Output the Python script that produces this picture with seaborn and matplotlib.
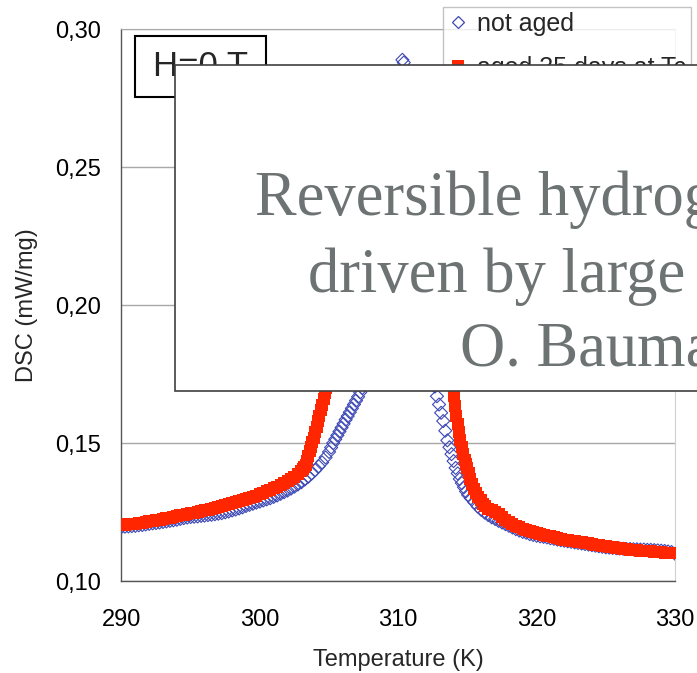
import numpy as np
import pandas as pd
import seaborn as sns
import matplotlib.pyplot as plt
from matplotlib.lines import Line2D
from matplotlib.patches import Rectangle
from matplotlib.ticker import FuncFormatter

# not aged sample
temp_not_aged = [
    290.00, 290.25, 290.50, 290.75, 291.00, 291.25, 291.50, 291.75, 292.00, 292.25,
    292.50, 292.75, 293.00, 293.25, 293.50, 293.75, 294.00, 294.25, 294.50, 294.75,
    295.00, 295.25, 295.50, 295.75, 296.00, 296.25, 296.50, 296.75, 297.00, 297.25,
    297.50, 297.75, 298.00, 298.25, 298.50, 298.75, 299.00, 299.25, 299.50, 299.75,
    300.00, 300.25, 300.50, 300.75, 301.00, 301.25, 301.50, 301.75, 302.00, 302.25,
    302.50, 302.75, 303.00, 303.25, 303.50, 303.75, 304.00, 304.25, 304.50, 304.75,
    305.00, 305.15, 305.30, 305.45, 305.60, 305.75, 305.90, 306.05, 306.20, 306.35,
    306.50, 306.65, 306.80, 306.95, 307.10, 307.25, 307.40, 307.55, 307.70,
    308.00, 308.50, 309.00, 309.50, 310.00, 310.30, 310.40, 310.60, 311.00, 311.50,
    312.00, 312.30,
    312.50, 312.65, 312.80, 312.95, 313.10, 313.25, 313.40, 313.55, 313.70, 313.85,
    314.00, 314.15, 314.30, 314.45, 314.60, 314.75, 314.90, 315.05, 315.25, 315.50,
    315.75, 316.00, 316.25, 316.50, 316.75, 317.00, 317.25, 317.50, 317.75, 318.00,
    318.25, 318.50, 318.75, 319.00, 319.25, 319.50, 319.75, 320.00, 320.25, 320.50,
    320.75, 321.00, 321.25, 321.50, 321.75, 322.00, 322.25, 322.50, 322.75, 323.00,
    323.25, 323.50, 323.75, 324.00, 324.25, 324.50, 324.75, 325.00, 325.25, 325.50,
    325.75, 326.00, 326.25, 326.50, 326.75, 327.00, 327.25, 327.50, 327.75, 328.00,
    328.25, 328.50, 328.75, 329.00, 329.25, 329.50, 329.75, 330.00,
]
dsc_not_aged = [
    0.1196, 0.1197, 0.1198, 0.1199, 0.1200, 0.1202, 0.1203, 0.1205, 0.1207, 0.1209,
    0.1210, 0.1212, 0.1214, 0.1216, 0.1218, 0.1220, 0.1222, 0.1225, 0.1228, 0.1230,
    0.1232, 0.1233, 0.1234, 0.1236, 0.1237, 0.1239, 0.1240, 0.1242, 0.1244, 0.1246,
    0.1249, 0.1252, 0.1256, 0.1259, 0.1263, 0.1267, 0.1272, 0.1276, 0.1280, 0.1284,
    0.1288, 0.1292, 0.1296, 0.1300, 0.1305, 0.1310, 0.1316, 0.1322, 0.1328, 0.1335,
    0.1342, 0.1350, 0.1358, 0.1368, 0.1378, 0.1390, 0.1402, 0.1416, 0.1430, 0.1448,
    0.1468, 0.1484, 0.1500, 0.1514, 0.1528, 0.1542, 0.1556, 0.1570, 0.1585, 0.1598,
    0.1612, 0.1626, 0.1640, 0.1654, 0.1668, 0.1684, 0.1700, 0.1717, 0.1735,
    0.1780, 0.1900, 0.2100, 0.2400, 0.2700, 0.2890, 0.2880, 0.2800, 0.2550, 0.2250,
    0.1950, 0.1800,
    0.1735, 0.1705, 0.1670, 0.1640, 0.1610, 0.1580, 0.1545, 0.1510, 0.1485, 0.1460,
    0.1435, 0.1410, 0.1390, 0.1370, 0.1355, 0.1340, 0.1325, 0.1312, 0.1300, 0.1285,
    0.1270, 0.1258, 0.1248, 0.1239, 0.1231, 0.1225, 0.1218, 0.1212, 0.1206, 0.1200,
    0.1194, 0.1188, 0.1183, 0.1178, 0.1175, 0.1170, 0.1167, 0.1164, 0.1162, 0.1160,
    0.1158, 0.1155, 0.1153, 0.1150, 0.1148, 0.1146, 0.1144, 0.1142, 0.1140, 0.1138,
    0.1136, 0.1134, 0.1132, 0.1130, 0.1128, 0.1126, 0.1124, 0.1122, 0.1121, 0.1120,
    0.1119, 0.1118, 0.1117, 0.1116, 0.1116, 0.1115, 0.1115, 0.1114, 0.1114, 0.1113,
    0.1113, 0.1112, 0.1111, 0.1110, 0.1109, 0.1107, 0.1105, 0.1099,
]

# aged 35 days at Tc
temp_aged = [
    290.00, 290.25, 290.50, 290.75, 291.00, 291.25, 291.50, 291.75, 292.00, 292.25,
    292.50, 292.75, 293.00, 293.25, 293.50, 293.75, 294.00, 294.25, 294.50, 294.75,
    295.00, 295.25, 295.50, 295.75, 296.00, 296.25, 296.50, 296.75, 297.00, 297.25,
    297.50, 297.75, 298.00, 298.25, 298.50, 298.75, 299.00, 299.25, 299.50, 299.75,
    300.00, 300.25, 300.50, 300.75, 301.00, 301.25, 301.50, 301.75, 302.00, 302.25,
    302.50, 302.75, 303.00, 303.10, 303.20, 303.30, 303.40, 303.50, 303.60, 303.70,
    303.80, 303.90, 304.00, 304.10, 304.20, 304.30, 304.40, 304.50, 304.60, 304.70,
    304.80, 304.90,
    305.10, 305.30, 305.50, 305.70, 306.00, 306.50, 307.00, 307.50, 307.80, 308.10,
    308.50, 308.80, 309.00, 309.50, 310.00, 310.50, 311.00, 311.50, 312.00, 312.50,
    313.00, 313.50,
    313.80, 313.90, 314.00, 314.10, 314.20, 314.30, 314.40, 314.50, 314.60, 314.70,
    314.80, 314.90, 315.00, 315.10, 315.20, 315.35, 315.50, 315.65, 315.80, 315.95,
    316.10, 316.30, 316.50, 316.75, 317.00, 317.25, 317.50, 317.75, 318.00, 318.25,
    318.50, 318.75, 319.00, 319.25, 319.50, 319.75, 320.00, 320.25, 320.50, 320.75,
    321.00, 321.25, 321.50, 321.75, 322.00, 322.25, 322.50, 322.75, 323.00, 323.25,
    323.50, 323.75, 324.00, 324.25, 324.50, 324.75, 325.00, 325.25, 325.50, 325.75,
    326.00, 326.25, 326.50, 326.75, 327.00, 327.25, 327.50, 327.75, 328.00, 328.25,
    328.50, 328.75, 329.00, 329.25, 329.50, 329.75, 330.00,
]
dsc_aged = [
    0.1203, 0.1204, 0.1205, 0.1206, 0.1208, 0.1210, 0.1212, 0.1214, 0.1216, 0.1218,
    0.1220, 0.1222, 0.1225, 0.1228, 0.1230, 0.1233, 0.1236, 0.1238, 0.1241, 0.1243,
    0.1246, 0.1248, 0.1251, 0.1253, 0.1256, 0.1259, 0.1262, 0.1265, 0.1268, 0.1271,
    0.1275, 0.1278, 0.1282, 0.1286, 0.1290, 0.1294, 0.1298, 0.1302, 0.1306, 0.1310,
    0.1315, 0.1320, 0.1325, 0.1330, 0.1336, 0.1342, 0.1348, 0.1355, 0.1362, 0.1370,
    0.1378, 0.1388, 0.1398, 0.1405, 0.1413, 0.1420, 0.1435, 0.1452, 0.1470, 0.1487,
    0.1503, 0.1520, 0.1540, 0.1560, 0.1580, 0.1600, 0.1620, 0.1640, 0.1660, 0.1680,
    0.1700, 0.1720,
    0.1800, 0.1950, 0.2150, 0.2400, 0.2550, 0.2700, 0.2620, 0.2300, 0.2000, 0.1720,
    0.1715, 0.2000, 0.2250, 0.2550, 0.2750, 0.2800, 0.2750, 0.2600, 0.2400, 0.2150,
    0.1950, 0.1800,
    0.1740, 0.1710, 0.1670, 0.1635, 0.1600, 0.1570, 0.1540, 0.1510, 0.1485, 0.1460,
    0.1440, 0.1425, 0.1410, 0.1390, 0.1370, 0.1352, 0.1335, 0.1320, 0.1305, 0.1292,
    0.1280, 0.1271, 0.1262, 0.1256, 0.1250, 0.1244, 0.1232, 0.1222, 0.1213, 0.1206,
    0.1200, 0.1195, 0.1190, 0.1186, 0.1183, 0.1179, 0.1175, 0.1171, 0.1168, 0.1165,
    0.1162, 0.1159, 0.1156, 0.1153, 0.1150, 0.1148, 0.1146, 0.1144, 0.1142, 0.1140,
    0.1138, 0.1136, 0.1134, 0.1132, 0.1130, 0.1128, 0.1126, 0.1124, 0.1122, 0.1120,
    0.1118, 0.1116, 0.1115, 0.1113, 0.1112, 0.1111, 0.1110, 0.1109, 0.1108, 0.1107,
    0.1106, 0.1105, 0.1104, 0.1103, 0.1102, 0.1102, 0.1101,
]

x_ticks = [290, 300, 310, 320, 330]
y_ticks = [0.10, 0.15, 0.20, 0.25, 0.30]
labels = ['not aged', 'aged 35 days at Tc']
title_lines = ['Reversible hydrogen', 'driven by large', 'O. Baumann']

blue = '#3d48b5'
red = '#ff2600'
grey_text = '#6d7272'

sns.set_style('white')
plt.rcParams['font.family'] = ['Liberation Sans', 'DejaVu Sans']

fig = plt.figure(figsize=(6.97, 6.73), dpi=100)
ax_ = fig.add_axes([0.1743, 0.1367, 0.7941, 0.8195])

df_1 = pd.DataFrame({'T': temp_not_aged, 'DSC': dsc_not_aged})
df_2 = pd.DataFrame({'T': temp_aged, 'DSC': dsc_aged})

sns.scatterplot(data=df_1, x='T', y='DSC', ax=ax_, marker='D', s=44,
                facecolors='none', edgecolor=blue, linewidth=0.8,
                zorder=3, legend=False)
sns.scatterplot(data=df_2, x='T', y='DSC', ax=ax_, marker='s', s=66,
                color=red, linewidth=0, zorder=4, legend=False)

ax_.set_xlim(290, 330)
ax_.set_ylim(0.10, 0.30)
ax_.set_xticks(x_ticks)
ax_.set_yticks(y_ticks)
ax_.yaxis.set_major_formatter(FuncFormatter(lambda v, p: f'{v:.2f}'.replace('.', ',')))
ax_.tick_params(axis='both', direction='out', length=6, width=1, color='#606060',
                labelsize=17, labelcolor='black')
ax_.tick_params(axis='y', pad=9)
ax_.tick_params(axis='x', pad=14)
ax_.yaxis.grid(True, color='#a8a8a8', lw=1)
ax_.set_axisbelow(True)

for side in ['left', 'bottom']:
    ax_.spines[side].set_color('#555555')
    ax_.spines[side].set_linewidth(1)
ax_.spines['top'].set_color('#a8a8a8')
ax_.spines['right'].set_color('#d0d0d0')

ax_.set_xlabel('Temperature (K)', fontsize=17, labelpad=13)
ax_.set_ylabel('DSC (mW/mg)', fontsize=17, labelpad=12)

# H=0 T label box
ax_.add_patch(Rectangle((0.0244, 0.8776), 0.2367, 0.1106, transform=ax_.transAxes,
                        fc='white', ec='black', lw=1.5, zorder=5))
ax_.text(0.1427, 0.9329, 'H=0 T', transform=ax_.transAxes, fontsize=25,
         ha='center', va='center', zorder=6)

handles = [
    Line2D([], [], ls='', marker='D', ms=6.3, mfc='none', mec=blue, mew=0.9),
    Line2D([], [], ls='', marker='s', ms=8.5, mfc=red, mec=red, mew=0),
]
leg = ax_.legend(handles, labels, loc='upper left',
                 bbox_to_anchor=(443 / 697, 1 - 7 / 673),
                 bbox_transform=fig.transFigure, fontsize=18, frameon=True,
                 fancybox=False, borderpad=0.2, handlelength=0.8,
                 handletextpad=0.35, labelspacing=0.8, borderaxespad=0)
leg.get_frame().set_edgecolor('#b4b4b4')
leg.get_frame().set_linewidth(1)
leg.set_zorder(7)

# overlay box on top of the chart
fig.add_artist(Rectangle((175 / 697, 1 - 391 / 673), 0.8, (391 - 65) / 673,
                         transform=fig.transFigure, fc='white', ec='#404040',
                         lw=1.2, zorder=10))
for txt, x0, y0 in zip(title_lines, [255, 308, 460], [215, 291.7, 365]):
    fig.text(x0 / 697, 1 - y0 / 673, txt, fontsize=45, color=grey_text,
             family=['Liberation Serif', 'DejaVu Serif'],
             ha='left', va='baseline', zorder=11)

plt.savefig('out.png', dpi=100)
